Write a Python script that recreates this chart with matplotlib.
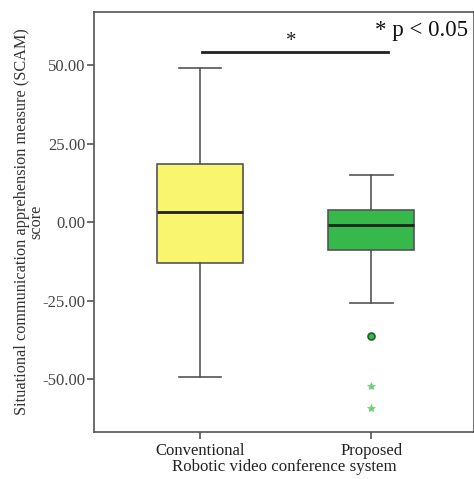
import matplotlib
matplotlib.use("Agg")
import matplotlib.pyplot as plt

categories = ["Conventional", "Proposed"]
whisker_low = [-49.4, -25.8]
q1 = [-13.0, -9.0]
median = [3.2, -1.0]
q3 = [18.5, 3.8]
whisker_high = [49.0, 15.0]
outliers_circle = [[], [-36.3]]
outliers_star = [[], [-52.2, -59.2]]
yticks = [-50, -25, 0, 25, 50]
box_colors = ["#FAF56E", "#36B94A"]

plt.rcParams['font.family'] = ['Liberation Serif', 'DejaVu Serif']

fig = plt.figure(figsize=(4.74, 4.79), dpi=100)
ax = fig.add_axes([0.198, 0.098, 0.802, 0.877])

stats = []
for i, c in enumerate(categories):
    stats.append(dict(label=c, whislo=whisker_low[i], q1=q1[i], med=median[i],
                      q3=q3[i], whishi=whisker_high[i], fliers=[]))

positions = [1, 2]
bp = ax.bxp(stats, positions=positions, widths=0.5, patch_artist=True,
            showfliers=False, capwidths=0.25,
            boxprops=dict(edgecolor="#555555", linewidth=1.2),
            medianprops=dict(color="#222222", linewidth=2),
            whiskerprops=dict(color="#555555", linewidth=1.2),
            capprops=dict(color="#555555", linewidth=1.2))
for patch, col in zip(bp["boxes"], box_colors):
    patch.set_facecolor(col)

for p, vals in zip(positions, outliers_circle):
    if vals:
        ax.plot([p] * len(vals), vals, "o", markersize=5, markerfacecolor="#36B94A",
                markeredgecolor="#1E5E2A", markeredgewidth=1.2)
for p, vals in zip(positions, outliers_star):
    if vals:
        ax.plot([p] * len(vals), vals, "*", markersize=6, color="#6CD07A",
                markeredgewidth=0.5)

# significance bar
ax.plot([1.01, 2.1], [54.1, 54.1], color="#222222", linewidth=2, clip_on=False)
ax.text(1.53, 54.5, "*", ha="center", va="bottom", fontsize=15, color="#222222")
ax.text(2.02, 61.0, "* p < 0.05", ha="left", va="center", fontsize=16.5, color="#111111")

ax.set_xlim(0.38, 2.6)
ax.set_ylim(-66.9, 66.9)
ax.set_yticks(yticks)
ax.set_yticklabels([f"{v:.2f}" for v in yticks])
ax.set_xticks(positions)
ax.set_xticklabels(categories)
ax.tick_params(axis="both", labelsize=12, colors="#555555", labelcolor="#444444",
               length=5, width=1.2, pad=1)
ax.tick_params(axis="x", labelcolor="#222222", labelsize=12, pad=3)
for s in ["left", "bottom", "top", "right"]:
    ax.spines[s].set_color("#555555")
    ax.spines[s].set_linewidth(1.2)

ax.set_xlabel("Robotic video conference system", fontsize=12.2, color="#222222", labelpad=0)
ax.set_ylabel("Situational communication apprehension measure (SCAM)\nscore",
              fontsize=11.7, color="#333333", linespacing=0.82, labelpad=-1)

fig.savefig("out.png", dpi=100)
